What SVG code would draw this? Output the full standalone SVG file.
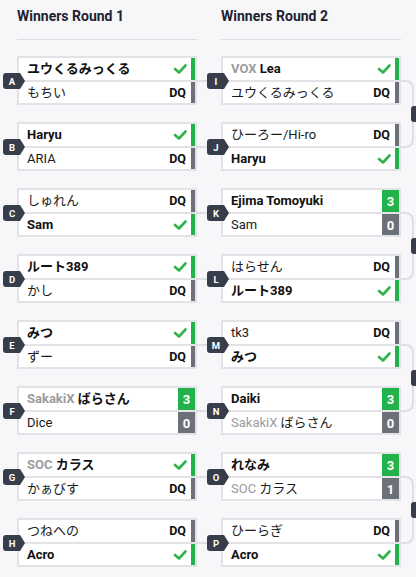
<svg xmlns="http://www.w3.org/2000/svg" xmlns:xlink="http://www.w3.org/1999/xlink" width="416" height="577" viewBox="0 0 416 577">
<style>
.bg{fill:#f7f7f9}
.hdr{font-family:Roboto,"Noto Sans CJK JP",sans-serif;font-size:14px;font-weight:700;fill:#1e2230}
.rule{stroke:#dcdce1;stroke-width:1}
.box{fill:#fff;stroke:#e3e3e7;stroke-width:2}
.div{stroke:#e3e3e7;stroke-width:2}
.nm{font-family:Roboto,"Noto Sans CJK JP",sans-serif;font-size:13px;fill:#1a1a1a}
.w{font-weight:700;fill:#111}
.tag{fill:#9b9b9f}
.dq{font-family:Roboto,sans-serif;font-size:12.5px;font-weight:700;fill:#111;text-anchor:end}
.gbar{fill:#22b24c}
.lbar{fill:#6b7079}
.sc{font-family:Roboto,sans-serif;font-size:13px;font-weight:700;fill:#fff;text-anchor:middle}
.chk{fill:none;stroke:#2fb34a;stroke-width:2.6;stroke-linecap:round;stroke-linejoin:round}
.bdg{fill:#373d4a}
.bl{font-family:Roboto,sans-serif;font-size:9.5px;font-weight:700;fill:#fff;text-anchor:middle}
.con{fill:none;stroke:#dedee3;stroke-width:2}
</style>
<defs>
<path id="badge" d="M3,-8 H17 L22,0 L17,8 H3 Q0,8 0,5 V-5 Q0,-8 3,-8 Z"/>
<path id="check" d="M0,0 L4,3.5 L10.5,-3.5"/>
</defs>
<rect class="bg" x="0" y="0" width="416" height="577"/>

<g id="headers">
<text class="hdr" x="17" y="21">Winners Round 1</text>
<line class="rule" x1="17" y1="39.5" x2="197" y2="39.5"/>
<text class="hdr" x="221" y="21">Winners Round 2</text>
<line class="rule" x1="221" y1="39.5" x2="401" y2="39.5"/>
</g>

<g id="connectors">
<path class="con" d="M197,81 H207 M197,147 H207 M197,213 H207 M197,279 H207 M197,345 H207 M197,411 H207 M197,477 H207 M197,543 H207"/>
<path class="con" d="M401,81 H405 Q413,81 413,89 V139 Q413,147 405,147 H401"/>
<path class="con" d="M401,213 H405 Q413,213 413,221 V271 Q413,279 405,279 H401"/>
<path class="con" d="M401,345 H405 Q413,345 413,353 V403 Q413,411 405,411 H401"/>
<path class="con" d="M401,477 H405 Q413,477 413,485 V535 Q413,543 405,543 H401"/>
<rect class="bdg" x="411" y="106" width="20" height="16" rx="3"/>
<rect class="bdg" x="411" y="238" width="20" height="16" rx="3"/>
<rect class="bdg" x="411" y="370" width="20" height="16" rx="3"/>
<rect class="bdg" x="411" y="502" width="20" height="16" rx="3"/>
</g>

<!-- Round 1 -->
<g id="match-A" transform="translate(17,56)">
<rect class="box" x="1" y="1" width="178" height="47"/><line class="div" x1="1" y1="25" x2="179" y2="25"/>
<rect class="gbar" x="174" y="2" width="4" height="22"/><rect class="lbar" x="174" y="26" width="4" height="21"/>
<text class="nm w" x="10" y="17">ユウくるみっくる</text><use href="#check" class="chk" x="158" y="13"/>
<text class="nm" x="10" y="41">もちい</text><text class="dq" x="169" y="41">DQ</text>
<use href="#badge" class="bdg" x="-14" y="25"/><text class="bl" x="-5" y="28.5">A</text>
</g>
<g id="match-B" transform="translate(17,122)">
<rect class="box" x="1" y="1" width="178" height="47"/><line class="div" x1="1" y1="25" x2="179" y2="25"/>
<rect class="gbar" x="174" y="2" width="4" height="22"/><rect class="lbar" x="174" y="26" width="4" height="21"/>
<text class="nm w" x="10" y="17">Haryu</text><use href="#check" class="chk" x="158" y="13"/>
<text class="nm" x="10" y="41">ARIA</text><text class="dq" x="169" y="41">DQ</text>
<use href="#badge" class="bdg" x="-14" y="25"/><text class="bl" x="-5" y="28.5">B</text>
</g>
<g id="match-C" transform="translate(17,188)">
<rect class="box" x="1" y="1" width="178" height="47"/><line class="div" x1="1" y1="25" x2="179" y2="25"/>
<rect class="lbar" x="174" y="2" width="4" height="22"/><rect class="gbar" x="174" y="26" width="4" height="21"/>
<text class="nm" x="10" y="17">しゅれん</text><text class="dq" x="169" y="17">DQ</text>
<text class="nm w" x="10" y="41">Sam</text><use href="#check" class="chk" x="158" y="37"/>
<use href="#badge" class="bdg" x="-14" y="25"/><text class="bl" x="-5" y="28.5">C</text>
</g>
<g id="match-D" transform="translate(17,254)">
<rect class="box" x="1" y="1" width="178" height="47"/><line class="div" x1="1" y1="25" x2="179" y2="25"/>
<rect class="gbar" x="174" y="2" width="4" height="22"/><rect class="lbar" x="174" y="26" width="4" height="21"/>
<text class="nm w" x="10" y="17">ルート389</text><use href="#check" class="chk" x="158" y="13"/>
<text class="nm" x="10" y="41">かし</text><text class="dq" x="169" y="41">DQ</text>
<use href="#badge" class="bdg" x="-14" y="25"/><text class="bl" x="-5" y="28.5">D</text>
</g>
<g id="match-E" transform="translate(17,320)">
<rect class="box" x="1" y="1" width="178" height="47"/><line class="div" x1="1" y1="25" x2="179" y2="25"/>
<rect class="gbar" x="174" y="2" width="4" height="22"/><rect class="lbar" x="174" y="26" width="4" height="21"/>
<text class="nm w" x="10" y="17">みつ</text><use href="#check" class="chk" x="158" y="13"/>
<text class="nm" x="10" y="41">ずー</text><text class="dq" x="169" y="41">DQ</text>
<use href="#badge" class="bdg" x="-14" y="25"/><text class="bl" x="-5" y="28.5">E</text>
</g>
<g id="match-F" transform="translate(17,386)">
<rect class="box" x="1" y="1" width="178" height="47"/><line class="div" x1="1" y1="25" x2="179" y2="25"/>
<rect class="gbar" x="161" y="2" width="17" height="22"/><rect class="lbar" x="161" y="26" width="17" height="21"/>
<text class="nm w" x="10" y="17"><tspan class="tag">SakakiX</tspan> ばらさん</text><text class="sc" x="169.5" y="17.5">3</text>
<text class="nm" x="10" y="41">Dice</text><text class="sc" x="169.5" y="41.5">0</text>
<use href="#badge" class="bdg" x="-14" y="25"/><text class="bl" x="-5" y="28.5">F</text>
</g>
<g id="match-G" transform="translate(17,452)">
<rect class="box" x="1" y="1" width="178" height="47"/><line class="div" x1="1" y1="25" x2="179" y2="25"/>
<rect class="gbar" x="174" y="2" width="4" height="22"/><rect class="lbar" x="174" y="26" width="4" height="21"/>
<text class="nm w" x="10" y="17"><tspan class="tag">SOC</tspan> カラス</text><use href="#check" class="chk" x="158" y="13"/>
<text class="nm" x="10" y="41">かぁびす</text><text class="dq" x="169" y="41">DQ</text>
<use href="#badge" class="bdg" x="-14" y="25"/><text class="bl" x="-5" y="28.5">G</text>
</g>
<g id="match-H" transform="translate(17,518)">
<rect class="box" x="1" y="1" width="178" height="47"/><line class="div" x1="1" y1="25" x2="179" y2="25"/>
<rect class="lbar" x="174" y="2" width="4" height="22"/><rect class="gbar" x="174" y="26" width="4" height="21"/>
<text class="nm" x="10" y="17">つねへの</text><text class="dq" x="169" y="17">DQ</text>
<text class="nm w" x="10" y="41">Acro</text><use href="#check" class="chk" x="158" y="37"/>
<use href="#badge" class="bdg" x="-14" y="25"/><text class="bl" x="-5" y="28.5">H</text>
</g>

<!-- Round 2 -->
<g id="match-I" transform="translate(221,56)">
<rect class="box" x="1" y="1" width="178" height="47"/><line class="div" x1="1" y1="25" x2="179" y2="25"/>
<rect class="gbar" x="174" y="2" width="4" height="22"/><rect class="lbar" x="174" y="26" width="4" height="21"/>
<text class="nm w" x="10" y="17"><tspan class="tag">VOX</tspan> Lea</text><use href="#check" class="chk" x="158" y="13"/>
<text class="nm" x="10" y="41">ユウくるみっくる</text><text class="dq" x="169" y="41">DQ</text>
<use href="#badge" class="bdg" x="-14" y="25"/><text class="bl" x="-5" y="28.5">I</text>
</g>
<g id="match-J" transform="translate(221,122)">
<rect class="box" x="1" y="1" width="178" height="47"/><line class="div" x1="1" y1="25" x2="179" y2="25"/>
<rect class="lbar" x="174" y="2" width="4" height="22"/><rect class="gbar" x="174" y="26" width="4" height="21"/>
<text class="nm" x="10" y="17">ひーろー/Hi-ro</text><text class="dq" x="169" y="17">DQ</text>
<text class="nm w" x="10" y="41">Haryu</text><use href="#check" class="chk" x="158" y="37"/>
<use href="#badge" class="bdg" x="-14" y="25"/><text class="bl" x="-5" y="28.5">J</text>
</g>
<g id="match-K" transform="translate(221,188)">
<rect class="box" x="1" y="1" width="178" height="47"/><line class="div" x1="1" y1="25" x2="179" y2="25"/>
<rect class="gbar" x="161" y="2" width="17" height="22"/><rect class="lbar" x="161" y="26" width="17" height="21"/>
<text class="nm w" x="10" y="17">Ejima Tomoyuki</text><text class="sc" x="169.5" y="17.5">3</text>
<text class="nm" x="10" y="41">Sam</text><text class="sc" x="169.5" y="41.5">0</text>
<use href="#badge" class="bdg" x="-14" y="25"/><text class="bl" x="-5" y="28.5">K</text>
</g>
<g id="match-L" transform="translate(221,254)">
<rect class="box" x="1" y="1" width="178" height="47"/><line class="div" x1="1" y1="25" x2="179" y2="25"/>
<rect class="lbar" x="174" y="2" width="4" height="22"/><rect class="gbar" x="174" y="26" width="4" height="21"/>
<text class="nm" x="10" y="17">はらせん</text><text class="dq" x="169" y="17">DQ</text>
<text class="nm w" x="10" y="41">ルート389</text><use href="#check" class="chk" x="158" y="37"/>
<use href="#badge" class="bdg" x="-14" y="25"/><text class="bl" x="-5" y="28.5">L</text>
</g>
<g id="match-M" transform="translate(221,320)">
<rect class="box" x="1" y="1" width="178" height="47"/><line class="div" x1="1" y1="25" x2="179" y2="25"/>
<rect class="lbar" x="174" y="2" width="4" height="22"/><rect class="gbar" x="174" y="26" width="4" height="21"/>
<text class="nm" x="10" y="17">tk3</text><text class="dq" x="169" y="17">DQ</text>
<text class="nm w" x="10" y="41">みつ</text><use href="#check" class="chk" x="158" y="37"/>
<use href="#badge" class="bdg" x="-14" y="25"/><text class="bl" x="-5" y="28.5">M</text>
</g>
<g id="match-N" transform="translate(221,386)">
<rect class="box" x="1" y="1" width="178" height="47"/><line class="div" x1="1" y1="25" x2="179" y2="25"/>
<rect class="gbar" x="161" y="2" width="17" height="22"/><rect class="lbar" x="161" y="26" width="17" height="21"/>
<text class="nm w" x="10" y="17">Daiki</text><text class="sc" x="169.5" y="17.5">3</text>
<text class="nm" x="10" y="41"><tspan class="tag">SakakiX</tspan> ばらさん</text><text class="sc" x="169.5" y="41.5">0</text>
<use href="#badge" class="bdg" x="-14" y="25"/><text class="bl" x="-5" y="28.5">N</text>
</g>
<g id="match-O" transform="translate(221,452)">
<rect class="box" x="1" y="1" width="178" height="47"/><line class="div" x1="1" y1="25" x2="179" y2="25"/>
<rect class="gbar" x="161" y="2" width="17" height="22"/><rect class="lbar" x="161" y="26" width="17" height="21"/>
<text class="nm w" x="10" y="17">れなみ</text><text class="sc" x="169.5" y="17.5">3</text>
<text class="nm" x="10" y="41"><tspan class="tag">SOC</tspan> カラス</text><text class="sc" x="169.5" y="41.5">1</text>
<use href="#badge" class="bdg" x="-14" y="25"/><text class="bl" x="-5" y="28.5">O</text>
</g>
<g id="match-P" transform="translate(221,518)">
<rect class="box" x="1" y="1" width="178" height="47"/><line class="div" x1="1" y1="25" x2="179" y2="25"/>
<rect class="lbar" x="174" y="2" width="4" height="22"/><rect class="gbar" x="174" y="26" width="4" height="21"/>
<text class="nm" x="10" y="17">ひーらぎ</text><text class="dq" x="169" y="17">DQ</text>
<text class="nm w" x="10" y="41">Acro</text><use href="#check" class="chk" x="158" y="37"/>
<use href="#badge" class="bdg" x="-14" y="25"/><text class="bl" x="-5" y="28.5">P</text>
</g>
</svg>
